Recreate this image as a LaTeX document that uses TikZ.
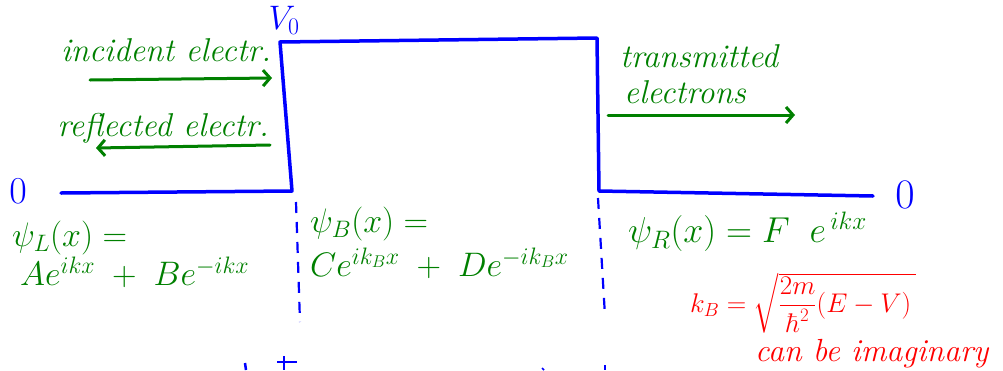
\documentclass[tikz,border=0pt]{standalone}
\usepackage{fix-cm}
\usepackage{amsmath}
\usetikzlibrary{arrows.meta}
\definecolor{pgreen}{RGB}{0,128,0}
\definecolor{pblue}{RGB}{0,0,255}
\definecolor{pred}{RGB}{255,0,0}
\newcommand{\fs}[1]{\fontsize{#1}{#1}\selectfont}
\begin{document}
\begin{tikzpicture}[x=1pt,y=-1pt,
  wall/.style={draw=pblue,line width=3.5pt,line join=round,line cap=round},
  guide/.style={draw=pblue,line width=2.2pt,dash pattern=on 11pt off 9pt},
  flow/.style={draw=pgreen,line width=3pt,line cap=round,-{Straight Barb[length=7pt,width=16pt,line width=3pt]}},
  gtxt/.style={text=pgreen,inner sep=0pt,font=\fs{33}\itshape},
  geq/.style={text=pgreen,inner sep=0pt,anchor=west,font=\fs{34}},
  rtxt/.style={text=pred,inner sep=0pt,anchor=west},
  btxt/.style={text=pblue,inner sep=0pt}]
\useasboundingbox (0,0) rectangle (1003,370);
% barrier
\coordinate (l0) at (61,193);
\coordinate (lb) at (292,191);
\coordinate (lt) at (280,42);
\coordinate (rt) at (597,38);
\coordinate (rb) at (599,191);
\coordinate (r0) at (873,196);
\draw[wall] (l0) -- (lb) -- (lt) -- (rt) -- (rb) -- (r0);
% dashed guides
\coordinate (dl1) at (296,202);
\coordinate (dl2) at (300,322);
\coordinate (dr1) at (598,198);
\coordinate (dr2) at (605,316);
\draw[guide] (dl1) -- (dl2);
\draw[guide] (dr1) -- (dr2);
% labels
\node[btxt,font=\fs{34}] (v0) at (284,20) {$V_0$};
\node[btxt,font=\fs{38}] (zl) at (18,191) {$0$};
\node[btxt,font=\fs{42}] (zr) at (905,195) {$0$};
% arrows and text
\node[gtxt] (inc) at (166,50) {incident electr.};
\coordinate (ia1) at (90,80);
\coordinate (ia2) at (272,78);
\draw[flow] (ia1) -- (ia2);
\node[gtxt] (ref) at (163,128) {reflected electr.};
\coordinate (ra1) at (270,145);
\coordinate (ra2) at (96,148);
\draw[flow] (ra1) -- (ra2);
\node[gtxt,anchor=west] (tr1) at (620,56) {transmitted};
\node[gtxt,anchor=west] (tr2) at (624,92) {electrons};
\coordinate (ta1) at (608,115);
\coordinate (ta2) at (795,115);
\draw[flow] (ta1) -- (ta2);
% equations
\node[geq] (psiL) at (12,238) {$\psi_L(x) =$};
\node[geq] (wL) at (20,272) {$Ae^{ikx}\;+\;Be^{-ikx}$};
\node[geq] (psiB) at (310,224) {$\psi_B(x) =$};
\node[geq] (wB) at (310,263) {$Ce^{ik_Bx}\;+\;De^{-ik_Bx}$};
\node[geq,font=\fs{36}] (psiR) at (628,232) {$\psi_R(x) = F\;\;e^{\,ikx}$};
\node[rtxt,font=\fs{27}] (kB) at (690,303) {$k_B=\sqrt{\dfrac{2m}{\hbar^2}(E-V)\,}$};
\node[rtxt,font=\fs{32}\itshape] (imag) at (755,354) {can be imaginary};
% bottom fragments
\coordinate (p1) at (277,362);
\coordinate (p2) at (297,362);
\coordinate (p3) at (284,356);
\coordinate (p4) at (284,370);
\draw[pblue,line width=2.5pt] (p1) -- (p2) (p3) -- (p4);
\coordinate (d1) at (245,363);
\coordinate (d2) at (246,370);
\draw[pblue,line width=2.5pt] (d1) -- (d2);
\coordinate (d3) at (605,365);
\coordinate (d4) at (605,370);
\draw[pblue,line width=2pt] (d3) -- (d4);
\coordinate (d5) at (542,368);
\coordinate (d6) at (544,370);
\draw[pblue,line width=1.5pt] (d5) -- (d6);
\end{tikzpicture}
\end{document}
